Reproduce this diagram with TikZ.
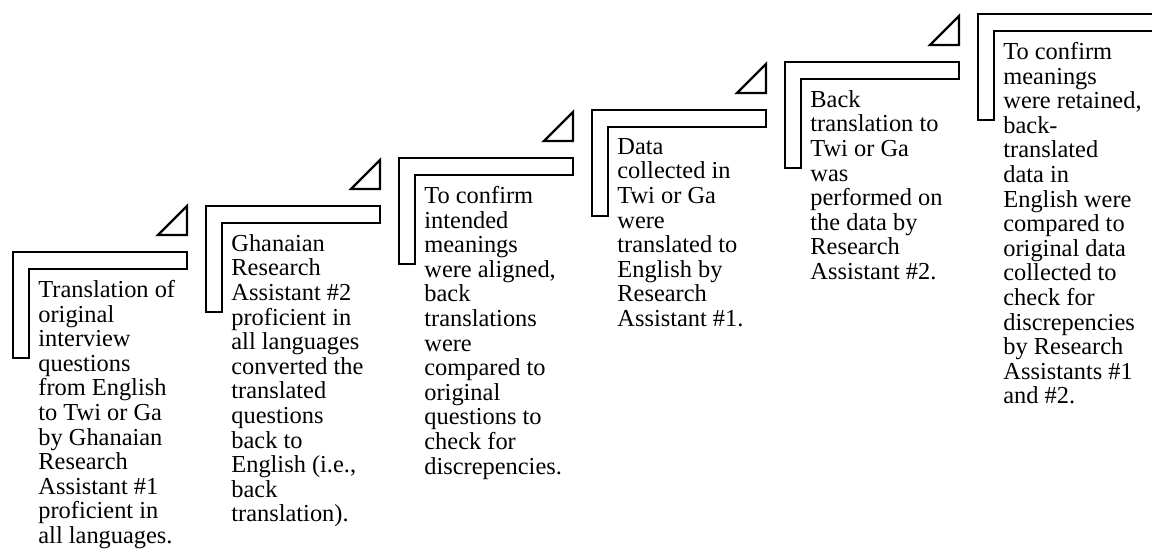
\documentclass[tikz,border=0pt]{standalone}
\usepackage{fontspec}
\setmainfont{Liberation Serif}
\usepackage{tikz}
\usetikzlibrary{calc}
\tikzset{
  stepline/.style={draw=black,line width=1.1pt,line join=miter},
  steptext/.style={anchor=north west,align=left,inner sep=0pt,
    font=\fontsize{12.2}{12.3}\selectfont}
}

\begin{document}
\begin{tikzpicture}[x=0.5pt,y=-0.5pt]
      \useasboundingbox (0,0) rectangle (1152,551);
      \coordinate (s1) at (13,252);
      \coordinate (s2) at (206,206);
      \coordinate (s3) at (399,158);
      \coordinate (s4) at (592,110);
      \coordinate (s5) at (785,62);
      \coordinate (s6) at (978,14);

      \draw[stepline] (s1) -- ++(174,0) -- ++(0,17) -- ++(-158,0) -- ++(0,89) -- ++(-16,0) -- cycle;
      \draw[stepline] ($(s1)+(145,-17)$) -- ++(29,0) -- ++(0,-29) -- cycle;
      \draw[stepline] (s2) -- ++(174,0) -- ++(0,17) -- ++(-158,0) -- ++(0,89) -- ++(-16,0) -- cycle;
      \draw[stepline] ($(s2)+(145,-17)$) -- ++(29,0) -- ++(0,-29) -- cycle;
      \draw[stepline] (s3) -- ++(174,0) -- ++(0,17) -- ++(-158,0) -- ++(0,89) -- ++(-16,0) -- cycle;
      \draw[stepline] ($(s3)+(145,-17)$) -- ++(29,0) -- ++(0,-29) -- cycle;
      \draw[stepline] (s4) -- ++(174,0) -- ++(0,17) -- ++(-158,0) -- ++(0,89) -- ++(-16,0) -- cycle;
      \draw[stepline] ($(s4)+(145,-17)$) -- ++(29,0) -- ++(0,-29) -- cycle;
      \draw[stepline] (s5) -- ++(174,0) -- ++(0,17) -- ++(-158,0) -- ++(0,89) -- ++(-16,0) -- cycle;
      \draw[stepline] ($(s5)+(145,-17)$) -- ++(29,0) -- ++(0,-29) -- cycle;
      % last step runs off the page
      \draw[stepline] (s6) -- ++(180,0) -- ++(0,17) -- ++(-164,0) -- ++(0,89) -- ++(-16,0) -- cycle;

      \node[steptext] (t1) at ($(s1)+(25,28)$) {Translation of\\original\\interview\\questions\\from English\\to Twi or Ga\\by Ghanaian\\Research\\Assistant \#1\\proficient in\\all languages.};
      \node[steptext] (t2) at ($(s2)+(25,28)$) {Ghanaian\\Research\\Assistant \#2\\proficient in\\all languages\\converted the\\translated\\questions\\back to\\English (i.e.,\\back\\translation).};
      \node[steptext] (t3) at ($(s3)+(25,28)$) {To confirm\\intended\\meanings\\were aligned,\\back\\translations\\were\\compared to\\original\\questions to\\check for\\discrepencies.};
      \node[steptext] (t4) at ($(s4)+(25,28)$) {Data\\collected in\\Twi or Ga\\were\\translated to\\English by\\Research\\Assistant \#1.};
      \node[steptext] (t5) at ($(s5)+(25,28)$) {Back\\translation to\\Twi or Ga\\was\\performed on\\the data by\\Research\\Assistant \#2.};
      \node[steptext] (t6) at ($(s6)+(25,28)$) {To confirm\\meanings\\were retained,\\back-\\translated\\data in\\English were\\compared to\\original data\\collected to\\check for\\discrepencies\\by Research\\Assistants \#1\\and \#2.};
    \end{tikzpicture}
\end{document}
